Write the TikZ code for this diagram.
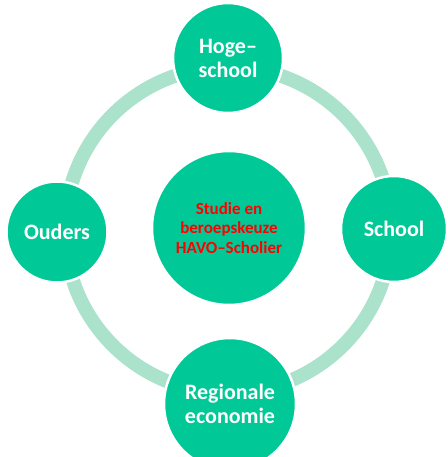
\documentclass[tikz,border=0pt]{standalone}
\usepackage{fontspec}
\setmainfont{Carlito}
\definecolor{darkgreen}{RGB}{0,201,151}
\definecolor{lightgreen}{RGB}{170,226,204}
\definecolor{textred}{RGB}{255,0,0}
\begin{document}
\begin{tikzpicture}[x=1pt,y=-1pt,
  bubble/.style={circle,fill=darkgreen,draw=white,line width=2.5pt,inner sep=0pt,
     text=white,font=\fontsize{22}{24}\selectfont\bfseries,align=center},
  ring/.style={draw=lightgreen,line width=14pt}]
\useasboundingbox (0,0) rectangle (447,457);
\coordinate (c) at (228,230);
\draw[ring] (c) circle[radius=163];
\node[bubble,minimum size=110pt] (top) at (228,58) {Hoge–\\school};
\node[bubble,minimum size=101pt] (left) at (57,232) {Ouders};
\node[bubble,minimum size=106pt] (right) at (394,229) {School};
\node[bubble,minimum size=132pt] (bottom) at (230,404) {Regionale\\economie};
\node[bubble,minimum size=154pt,text=textred,font=\fontsize{17}{19.5}\selectfont\bfseries] (mid) at (229,228) {Studie en\\beroepskeuze\\HAVO–Scholier};
\end{tikzpicture}
\end{document}
